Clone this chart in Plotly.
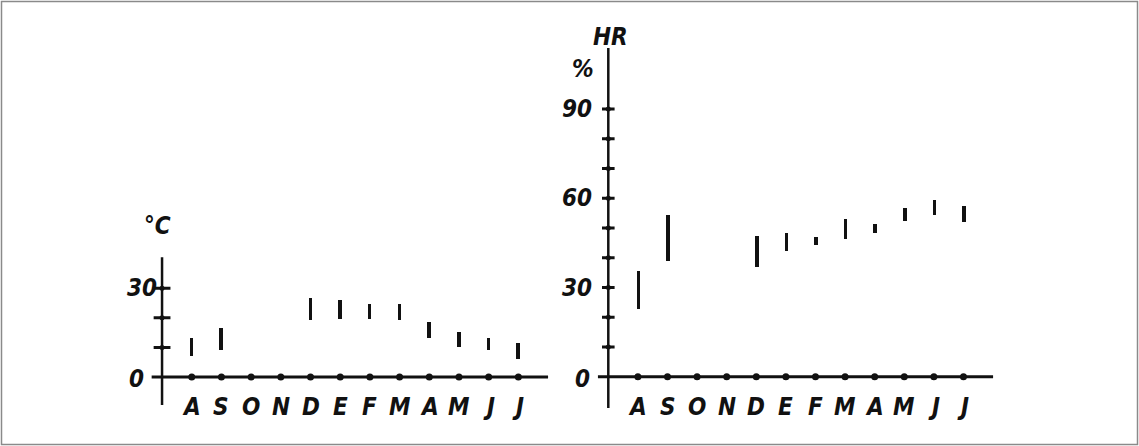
import numpy as np
import plotly.graph_objects as go

months = ["A", "S", "O", "N", "D", "E", "F", "M", "A", "M", "J", "J"]
month_pos = list(range(1, 13))

temp_low = [7, 9, None, None, 19, 19.5, 19.5, 19, 13, 10, 9, 6]
temp_high = [13, 16.5, None, None, 26.5, 26, 24.5, 24.5, 18.5, 15, 13, 11.5]

hr_low = [23, 39, None, None, 37, 42.5, 44.5, 46.5, 48.5, 52.5, 54.5, 52]
hr_high = [35.5, 54.5, None, None, 47.5, 48.5, 47, 53, 51.5, 57, 59.5, 57.5]

temp_ticks = [10, 20, 30]
temp_ticklabels = [0, 30]
hr_ticks = [10, 20, 30, 40, 50, 60, 70, 80, 90]
hr_ticklabels = [0, 30, 60, 90]

W, H = 1139, 446
INK = "#111111"
FONT = dict(family="DejaVu Sans Condensed, DejaVu Sans, sans-serif", size=24,
            color=INK, style="italic", weight="bold")


def arr(v):
    return np.array([np.nan if x is None else x for x in v], dtype=float)


fig = go.Figure()


def panel(xa, ya, low, high, ticks, ticklabels, ymin, ymax, tick_len, label_gap):
    lo, hi = arr(low), arr(high)
    fig.add_trace(go.Bar(x=month_pos, y=hi - lo, base=lo, width=0.12,
                         marker=dict(color=INK, line=dict(width=0)),
                         xaxis=xa, yaxis=ya, showlegend=False, hoverinfo="skip"))
    fig.add_trace(go.Scatter(x=[-0.35, 13.0], y=[0, 0], mode="lines",
                             line=dict(color=INK, width=3),
                             xaxis=xa, yaxis=ya, showlegend=False, hoverinfo="skip"))
    fig.add_trace(go.Scatter(x=[0, 0], y=[ymin, ymax], mode="lines",
                             line=dict(color=INK, width=2.5),
                             xaxis=xa, yaxis=ya, showlegend=False, hoverinfo="skip"))
    fig.add_trace(go.Scatter(x=month_pos, y=[0] * len(month_pos), mode="markers",
                             marker=dict(color=INK, size=7, symbol="circle"),
                             xaxis=xa, yaxis=ya, showlegend=False, hoverinfo="skip"))
    fig.add_trace(go.Scatter(x=[0] * len(ticks), y=ticks, mode="markers",
                             marker=dict(symbol="line-ew", size=tick_len,
                                         line=dict(color=INK, width=3)),
                             xaxis=xa, yaxis=ya, showlegend=False, hoverinfo="skip"))
    fig.add_trace(go.Scatter(x=[0] * len(ticks), y=ticks, mode="markers",
                             marker=dict(symbol="circle", size=5, color=INK),
                             xaxis=xa, yaxis=ya, showlegend=False, hoverinfo="skip"))
    for p, m in zip(month_pos, months):
        fig.add_annotation(x=p, y=0, xref=xa, yref=ya, text=m, showarrow=False,
                           yanchor="top", yshift=-14, font=FONT)
    for v in ticklabels:
        fig.add_annotation(x=-0.35 if v == 0 else 0, y=v, xref=xa, yref=ya,
                           text=str(v), showarrow=False, xanchor="right",
                           xshift=-6 if v == 0 else -label_gap,
                           yshift=-2 if v == 0 else 0, font=FONT)


panel("x", "y", temp_low, temp_high, temp_ticks, temp_ticklabels, -9.5, 40.5, 12, 3)
panel("x2", "y2", hr_low, hr_high, hr_ticks, hr_ticklabels, -10.5, 110.5, 9, 14)

fig.add_annotation(x=-0.15, y=51, xref="x", yref="y", text="°C", showarrow=False,
                   xanchor="center", font=FONT)
fig.add_annotation(x=0, y=110.5, xref="x2", yref="y2", text="HR", showarrow=False,
                   xanchor="right", xshift=22, yanchor="bottom", yshift=-5, font=FONT)
fig.add_annotation(x=0, y=103.5, xref="x2", yref="y2", text="%", showarrow=False,
                   xanchor="right", xshift=-12, font=FONT)

axis_common = dict(visible=False, showgrid=False, zeroline=False, fixedrange=True)

fig.update_layout(
    width=W, height=H,
    margin=dict(l=0, r=0, t=0, b=0),
    paper_bgcolor="white", plot_bgcolor="white",
    xaxis=dict(domain=[147.2 / W, 554.0 / W], range=[-0.5, 13.2], **axis_common),
    yaxis=dict(domain=[1 - 436.1 / H, 1 - (377 - 2.957 * 55) / H], range=[-20, 55],
               **axis_common),
    xaxis2=dict(domain=[593.5 / W, 999.0 / W], range=[-0.5, 13.2], **axis_common),
    yaxis2=dict(domain=[1 - 436.2 / H, 1 - 34.7 / H], range=[-20, 115], **axis_common),
    shapes=[dict(type="rect", xref="paper", yref="paper",
                 x0=1.5 / W, x1=1 - 1.5 / W, y0=1.5 / H, y1=1 - 1.5 / H,
                 line=dict(color="#8a8a8a", width=1.5))],
    bargap=0,
)

fig.write_html("out.html", config={"displayModeBar": False},
               post_script="document.body.style.margin='0';document.body.style.overflow='hidden';")
